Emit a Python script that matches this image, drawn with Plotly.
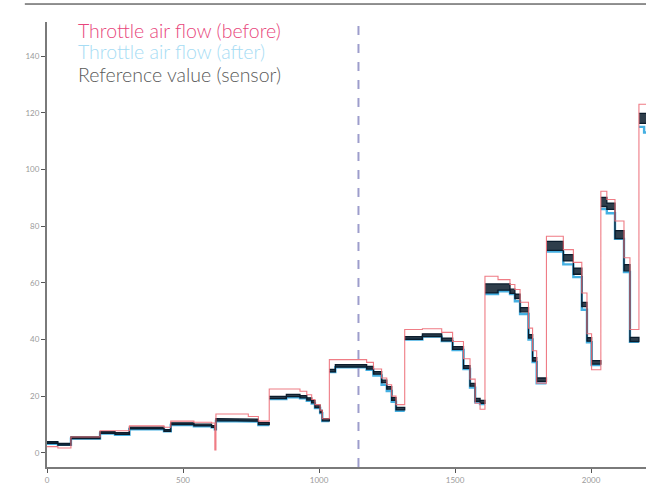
import plotly.graph_objects as go

# Shared step breakpoints (time samples)
T = [0, 40, 88, 195, 250, 303, 430, 455, 540, 605, 617, 621, 740, 777, 817, 880, 930, 955, 973,
     985, 1004, 1012, 1038, 1060, 1175, 1200, 1230, 1249, 1267, 1283, 1315, 1380, 1451, 1491,
     1531, 1555, 1574, 1592, 1610, 1658, 1702, 1720, 1739, 1770, 1785, 1800, 1836, 1898, 1935,
     1966, 1985, 2002, 2036, 2058, 2088, 2121, 2143, 2176, 2195, 2210]

before = [2.2, 1.7, 5.6, 7.8, 7.8, 9.5, 9.0, 11.2, 10.8, 10.5, 1.0, 13.7, 12.8, 11.2, 22.5, 22.5,
          21.7, 20.5, 18.8, 17.0, 15.0, 12.0, 32.9, 32.9, 31.9, 29.6, 26.4, 24.0, 20.0, 17.0, 43.5,
          43.8, 42.5, 39.3, 33.2, 26.0, 17.5, 15.4, 62.3, 61.1, 59.4, 57.6, 53.1, 44.0, 36.0, 24.6,
          76.4, 71.7, 67.2, 56.4, 42.0, 29.3, 92.3, 89.4, 81.8, 68.8, 43.5, 123.0, 123.0, 123.0]

after = [3.2, 2.8, 5.0, 6.8, 6.4, 8.3, 7.6, 9.8, 9.4, 9.0, 8.3, 11.2, 11.0, 9.8, 19.0, 19.6, 19.2,
         18.4, 17.4, 15.8, 14.0, 11.2, 28.5, 30.2, 29.3, 27.3, 24.0, 21.8, 18.0, 14.8, 40.0, 41.0,
         39.4, 36.3, 29.6, 23.0, 17.8, 17.2, 56.0, 57.0, 56.0, 53.5, 49.0, 40.0, 32.0, 24.5, 71.0,
         66.5, 62.0, 50.5, 39.0, 31.0, 86.0, 84.5, 75.5, 63.8, 39.2, 115.0, 113.0, 105.0]

reference = [3.6, 3.0, 5.3, 7.2, 6.8, 8.8, 7.9, 10.3, 9.8, 9.3, 8.5, 11.7, 11.5, 10.3, 19.5, 20.2,
             19.8, 19.0, 18.0, 16.4, 14.6, 11.7, 29.0, 30.7, 30.0, 28.2, 25.2, 22.9, 19.0, 15.6,
             40.5, 41.5, 40.0, 37.0, 30.3, 24.0, 18.7, 18.0, 58.0, 58.5, 57.0, 55.2, 50.5, 41.1,
             33.0, 25.8, 73.0, 68.8, 64.1, 52.3, 40.0, 31.9, 88.5, 87.0, 77.0, 65.3, 40.0, 118.0,
             118.0, 117.0]

# visible noise band height of the sensor trace
ref_spread = [0.6, 0.6, 0.6, 0.6, 0.6, 0.6, 0.6, 0.6, 0.6, 0.6, 0.6, 0.7, 0.7, 0.7, 0.8, 0.8,
              0.8, 0.8, 0.8, 0.8, 0.8, 0.8, 0.9, 0.9, 0.9, 0.9, 0.9, 0.9, 0.9, 0.9, 1.0, 1.0,
              1.0, 1.0, 1.0, 1.0, 1.0, 1.0, 3.2, 2.2, 1.5, 1.5, 1.5, 1.2, 1.2, 1.2, 3.2, 2.2,
              2.2, 1.5, 1.2, 1.2, 3.2, 2.2, 2.8, 2.2, 1.5, 3.5, 3.5, 3.5]

marker_x = 1145

legend_labels = ["Throttle air flow (before)", "Throttle air flow (after)", "Reference value (sensor)"]
legend_colors = ["#e8467c", "#a6dcf4", "#5a5a5a"]

x_ticks = [0, 500, 1000, 1500, 2000]
y_ticks = [0, 20, 40, 60, 80, 100, 120, 140]


def step_xy(t, v, gap=None):
    xs, ys = [], []
    for i in range(len(t) - 1):
        xs += [t[i], t[i + 1]]
        ys += [v[i], v[i]]
        if gap is not None and v[i + 1] - v[i] > gap:
            xs.append(None)
            ys.append(None)
    return xs, ys


def band_xy(t, v, s, gap=5):
    xs, ys = [], []
    seg = [0]
    segs = []
    for i in range(1, len(t) - 1):
        if v[i] - v[i - 1] > gap:
            segs.append(seg)
            seg = [i]
        else:
            seg.append(i)
    segs.append(seg)
    for seg in segs:
        hx, hy, lx, ly = [], [], [], []
        for i in seg:
            hx += [t[i], t[i + 1]]
            hy += [v[i] + s[i] / 2] * 2
            lx += [t[i], t[i + 1]]
            ly += [v[i] - s[i] / 2] * 2
        xs += hx + lx[::-1] + [None]
        ys += hy + ly[::-1] + [None]
    return xs, ys


fig = go.Figure()

bx, by = step_xy(T, after, gap=5)
fig.add_trace(go.Scatter(x=bx, y=by, mode="lines", line=dict(color="#45b0e2", width=2.4),
                         showlegend=False, hoverinfo="skip"))

rx, ry = band_xy(T, reference, ref_spread)
fig.add_trace(go.Scatter(x=rx, y=ry, mode="lines", fill="toself", fillcolor="rgba(11,28,44,0.85)",
                         line=dict(color="#0b1c2c", width=1.3), showlegend=False, hoverinfo="skip"))

px_, py_ = step_xy(T, before)
fig.add_trace(go.Scatter(x=px_, y=py_, mode="lines", line=dict(color="#ee6e78", width=1.1),
                         opacity=0.9, showlegend=False, hoverinfo="skip"))

fig.add_shape(type="line", x0=marker_x, x1=marker_x, y0=0, y1=1, yref="paper",
              line=dict(color="#9d9dcc", width=2, dash="dash"))

fig.add_shape(type="line", x0=-0.037, x1=1, y0=1.0404, y1=1.0404, xref="paper", yref="paper",
              line=dict(color="#222222", width=1))

for i, (lab, col) in enumerate(zip(legend_labels, legend_colors)):
    fig.add_annotation(x=0.049, y=[0.98, 0.9326, 0.881][i], xref="paper", yref="paper",
                       text=lab, showarrow=False, xanchor="left", yanchor="middle",
                       font=dict(family="Lato", size=19.5, color=col, weight=300))

fig.update_layout(
    width=646, height=484,
    margin=dict(l=47, r=0, t=22, b=17),
    paper_bgcolor="white", plot_bgcolor="white",
    font=dict(family="Lato", size=8, color="#9a9a9a"),
    xaxis=dict(range=[0, 2202], tickvals=x_ticks, showgrid=False, zeroline=False,
               showline=True, linecolor="#7a7a7a", linewidth=2, ticks="outside",
               ticklen=4, tickcolor="#555", tickfont=dict(size=8, color="#9a9a9a")),
    yaxis=dict(range=[-5, 152], tickvals=y_ticks, showgrid=False, zeroline=False,
               showline=True, linecolor="#7a7a7a", linewidth=2, ticks="outside",
               ticklen=4, tickcolor="#555", tickfont=dict(size=8, color="#9a9a9a")),
)

fig.write_html("out.html", config={"displayModeBar": False},
               post_script="document.body.style.margin='0';document.body.style.overflow='hidden';")
